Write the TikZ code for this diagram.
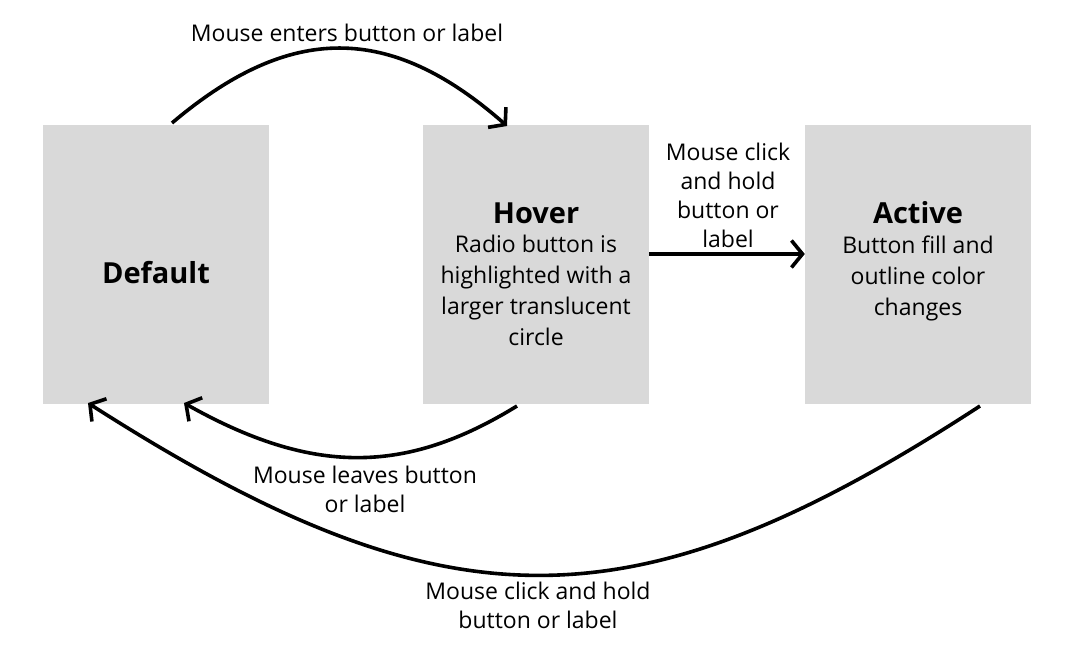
\documentclass[tikz,border=0pt]{standalone}
\usepackage{fontspec}
\setmainfont{Open Sans}
\usetikzlibrary{arrows.meta}
\tikzset{
  statebox/.style={fill=boxgray, minimum width=226pt, minimum height=279pt, inner sep=0pt, draw=none},
  lbl/.style={font=\fontsize{23}{28.7}\selectfont, align=center, inner sep=0pt, anchor=base},
  desc/.style={font=\fontsize{23}{30.7}\selectfont, align=center, inner sep=0pt, anchor=base},
  ttl/.style={font=\fontsize{29}{33}\selectfont\bfseries, inner sep=0pt, anchor=base},
  conn/.style={line width=3.6pt, -{Straight Barb[length=11pt,width=27pt,line width=3.6pt]}},
}
\definecolor{boxgray}{HTML}{D9D9D9}
\begin{document}
\begin{tikzpicture}[x=1pt,y=-1pt]
\useasboundingbox (0,0) rectangle (1066,666);
\node[statebox] (def) at (156,264.5) {};
\node[statebox] (hov) at (536,264.5) {};
\node[statebox] (act) at (918,264.5) {};
\node[ttl] (deft) at (156,283) {Default};
\node[ttl] (hovt) at (536,223) {Hover};
\node[desc] (hovd) at (536,345) {Radio button is\\highlighted with a\\larger translucent\\circle};
\node[ttl] (actt) at (918,223) {Active};
\node[desc] (actd) at (918,315) {Button fill and\\outline color\\changes};
% connector anchors
\coordinate (a1) at (172,123);
\coordinate (a2) at (507,126);
\coordinate (b1) at (517,406);
\coordinate (b2) at (184,403);
\coordinate (c1) at (980,406);
\coordinate (c2) at (88,403);
\draw[conn] (a1) .. controls (290,23) and (390,23) .. (a2);
\draw[conn] (b1) .. controls (405,475) and (312,475) .. (b2);
\draw[conn] (c1) .. controls (633,632) and (446,632) .. (c2);
\draw[conn] (hov.east |- 0,254) -- (act.west |- 0,254);
\node[lbl] (l1) at (347,42) {Mouse enters button or label};
\node[lbl] (l2) at (365,512) {Mouse leaves button\\or label};
\node[lbl] (l3) at (728,247) {Mouse click\\and hold\\button or\\label};
\node[lbl] (l4) at (538,628) {Mouse click and hold\\button or label};
\end{tikzpicture}
\end{document}
